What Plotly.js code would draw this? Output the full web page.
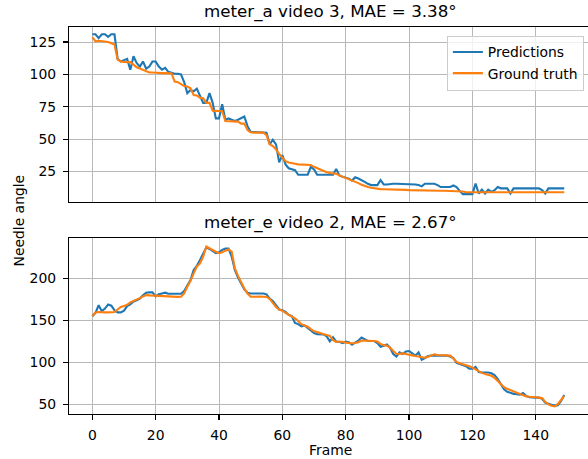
<!DOCTYPE html>
<html>
<head>
<meta charset="utf-8">
<script src="https://cdn.plot.ly/plotly-3.0.1.min.js"></script>
<style>html,body{margin:0;padding:0;background:#fff;}#chart{width:588px;height:459px;}</style>
</head>
<body>
<div id="chart"></div>
<script>
// ---- data ----
const titleA = "meter_a video 3, MAE = 3.38°";
const titleE = "meter_e video 2, MAE = 2.67°";
const seriesNames = ["Predictions", "Ground truth"];
const xTicks = [0, 20, 40, 60, 80, 100, 120, 140];
const yTicksA = [25, 50, 75, 100, 125];
const yTicksE = [50, 100, 150, 200];

const predA = [131,131,128,131,131,129,131,131,112,110,
  111,112,103.6,114,108.8,106,110,104.4,106,110,
  110,106,103.6,105,102,101,100.5,100.5,100,94,
  85.5,88,87,89,84,78,78,85.5,78,66,
  66,77,65,66,65,64,65,66,67.5,60,
  55.5,55.5,55.5,55.5,55.5,55,46,49.5,46,32,
  37.6,30.5,27.5,26.5,26,22.5,22.5,22.5,22.5,28.6,
  26.5,22.5,22.5,22.5,22.5,22.5,22.5,27,22,21,
  20.5,19.5,18,20.5,19.6,18.5,17,15.5,14.5,14.5,
  14.5,18.3,15,15,15.5,15.5,15.5,15.5,15.5,15,
  15,15,15,14.5,13.5,15.5,15.5,15.5,15.5,14.5,
  13,13,13,13,14.2,13,10,7.5,7.5,7.5,
  7.5,15.7,8,11,8,11,9.3,10.6,13,12,
  12,12,8,12,12,12,12,12,12,12,
  12,12,10.6,8,12,12,12,12,12,12];
const truthA = [128.7,125.5,126,125.8,125.5,125,124,123,111.5,110,
  109.7,109.7,109.5,107.5,105.5,104.5,103.6,102.3,101.5,101.5,
  101.2,101.2,101,101,101,100.8,94.5,94,92.5,91,
  90.6,89.3,84,83.7,82,81.6,78,78,72,72,
  72,71.5,64,64,64,64,63.5,62,62,57,
  55.3,55,55,55,55,53,46,44.6,42,38.5,
  35.5,33,32,31.7,31,30.5,30.3,30.3,30.3,30,
  28.6,27.5,27,25.5,24.5,23.8,23.5,23.3,22,21,
  20.3,19.6,18.5,17.5,16,14.8,13.8,13,12.5,12,
  11.6,11.4,11.3,11.3,11.3,11.3,11.3,11.3,11.3,10.8,
  10.6,10.5,10.5,10.5,10.4,10.4,10.3,10.3,10.2,10.2,
  10.1,10.1,10,10,10,10,10,9.5,9,9,
  9,9,9,9,9,9,9,9,9,9,
  9,9,9,9,9,9,9,9,9,9,
  9,9,9,9,9,9,9,9,9,9];
const predE = [155,159,168,161,164,169,167.5,162,159.5,159.5,
  161.5,167,169,172.5,174,176,180,183,183.3,183.3,
  178.5,181,182,183,181.7,181.7,181.7,181.7,181.7,185,
  191,198,210,215,222,230,237,235,233,230,
  231,234,235.5,235.5,226,210,201,194,187,183,
  182,182,182,182,182,181,176,173,168,163,
  162,160,156.5,155,147,145.5,143,144,141,138,
  135,133.5,133.3,133.3,131,125,130,124.6,124.6,123,
  124.6,124,121,123,126,129.5,127,125.4,125.4,125.4,
  123,118.6,119.8,121.4,117.5,110,107,112,110,113,
  113.5,110.5,108,112,103,105,107.5,108,108,108,
  108,108,108,107,105,99.5,98,97,95.5,92.5,
  92.5,94.5,88.5,88,88,88,87,85,80,74,
  68,65,63.5,62.5,62,61.5,63.5,60,58.5,58,
  58,58,56.5,52,50.5,49.5,48.5,49,54,61];
const truthE = [155,159.5,160,159.5,159.5,159.5,159.5,160,163,166,
  167.2,168.5,171.5,173,174.5,176.5,178.5,180.2,179.8,179.5,
  179.5,179.4,179.4,179,178.2,178,177.8,178,178.2,182,
  190,197,206,214,218,226,238,235.7,234.2,231.7,
  230,231,233,234.5,232,212,203,195,188,182,
  178.2,178.2,178.5,178.5,178.2,178,175.5,170,166,162.8,
  161.5,159,157,154.4,152.4,149.2,145.5,143.8,142.5,139.5,
  137,136,134.5,133.5,132.5,131.5,126.5,124.6,124.6,124.6,
  123.5,123,122.8,123,124,126,126,125.4,125.4,125.4,
  124.8,122,120.5,119.8,117.5,113.5,110,110.3,110.7,110,
  109.5,108.3,107.5,106.7,105.5,105.5,106.7,108.5,109.5,108.7,
  108.5,108,108,108,104.5,100.5,99,98,97,95.5,
  93.7,91.5,89,87.5,86,85,84,81.5,77.8,73,
  70.5,68.5,67,65.9,64,62.5,61,59.5,59,59,
  58.5,58,57.5,53,50,48.4,47.5,50.5,55.5,60];

const frames = predA.map((_, i) => i);
const framesE = predE.map((_, i) => i);

// ---- styling ----
const FONT = "DejaVu Sans, Liberation Sans, sans-serif";
const BLUE = "#1f77b4", ORANGE = "#ff7f0e";

const traces = [
  {x: frames, y: predA, xaxis: "x", yaxis: "y", mode: "lines", name: seriesNames[0],
   line: {color: BLUE, width: 2.1}, showlegend: true},
  {x: frames, y: truthA, xaxis: "x", yaxis: "y", mode: "lines", name: seriesNames[1],
   line: {color: ORANGE, width: 2.1}, showlegend: true},
  {x: framesE, y: predE, xaxis: "x2", yaxis: "y2", mode: "lines", name: seriesNames[0],
   line: {color: BLUE, width: 2.1}, showlegend: false},
  {x: framesE, y: truthE, xaxis: "x2", yaxis: "y2", mode: "lines", name: seriesNames[1],
   line: {color: ORANGE, width: 2.1}, showlegend: false}
];

const xCommon = {
  range: [-7.36, 156.5], tickvals: xTicks, ticks: "outside", ticklen: 5, tickwidth: 1.1,
  tickcolor: "#000", showgrid: true, gridcolor: "#b8b8b8", gridwidth: 1,
  showline: true, linecolor: "#000", linewidth: 1.1, mirror: true, zeroline: false,
  tickfont: {family: FONT, size: 13.9, color: "#000"}, fixedrange: true
};
const yCommon = {
  ticks: "outside", ticklen: 5, tickwidth: 1.1, tickcolor: "#000",
  showgrid: true, gridcolor: "#b8b8b8", gridwidth: 1,
  showline: true, linecolor: "#000", linewidth: 1.1, mirror: false, zeroline: false,
  tickfont: {family: FONT, size: 13.9, color: "#000"}, ticklabelstandoff: 4
};

const layout = {
  width: 588, height: 459,
  margin: {l: 69, r: 0, t: 26.7, b: 45, pad: 0},
  paper_bgcolor: "#fff", plot_bgcolor: "#fff",
  font: {family: FONT, size: 13.9, color: "#000"},
  xaxis: Object.assign({}, xCommon, {anchor: "y", showticklabels: false, ticks: ""}),
  yaxis: Object.assign({}, yCommon, {domain: [0.548, 1], range: [1.5, 136.6], tickvals: yTicksA, anchor: "x"}),
  xaxis2: Object.assign({}, xCommon, {anchor: "y2", showticklabels: true, ticklabelstandoff: 3}),
  yaxis2: Object.assign({}, yCommon, {domain: [0, 0.4537], range: [38.5, 247.6], tickvals: yTicksE, anchor: "x2"}),
  legend: {x: 0.992, y: 0.978, xanchor: "right", yanchor: "top",
    bgcolor: "rgba(255,255,255,0.8)", bordercolor: "#cccccc", borderwidth: 1,
    font: {family: FONT, size: 13.9, color: "#000"}, tracegroupgap: 0},
  annotations: [
    {text: titleA, xref: "paper", yref: "paper", x: 0.503, y: 1, xanchor: "center", yanchor: "bottom",
     yshift: 3, showarrow: false, font: {family: FONT, size: 16.7, color: "#000"}},
    {text: titleE, xref: "paper", yref: "paper", x: 0.503, y: 0.4537, xanchor: "center", yanchor: "bottom",
     yshift: 3, showarrow: false, font: {family: FONT, size: 16.7, color: "#000"}},
    {text: "Needle angle", xref: "paper", yref: "paper", x: 0, y: 0.5, xanchor: "center", yanchor: "middle",
     xshift: -51, textangle: -90, showarrow: false, font: {family: FONT, size: 13.9, color: "#000"}},
    {text: "Frame", xref: "paper", yref: "paper", x: 0.503, y: 0, xanchor: "center", yanchor: "top",
     yshift: -26, showarrow: false, font: {family: FONT, size: 13.9, color: "#000"}}
  ]
};

Plotly.newPlot("chart", traces, layout, {staticPlot: true, displayModeBar: false});
</script>
</body>
</html>
